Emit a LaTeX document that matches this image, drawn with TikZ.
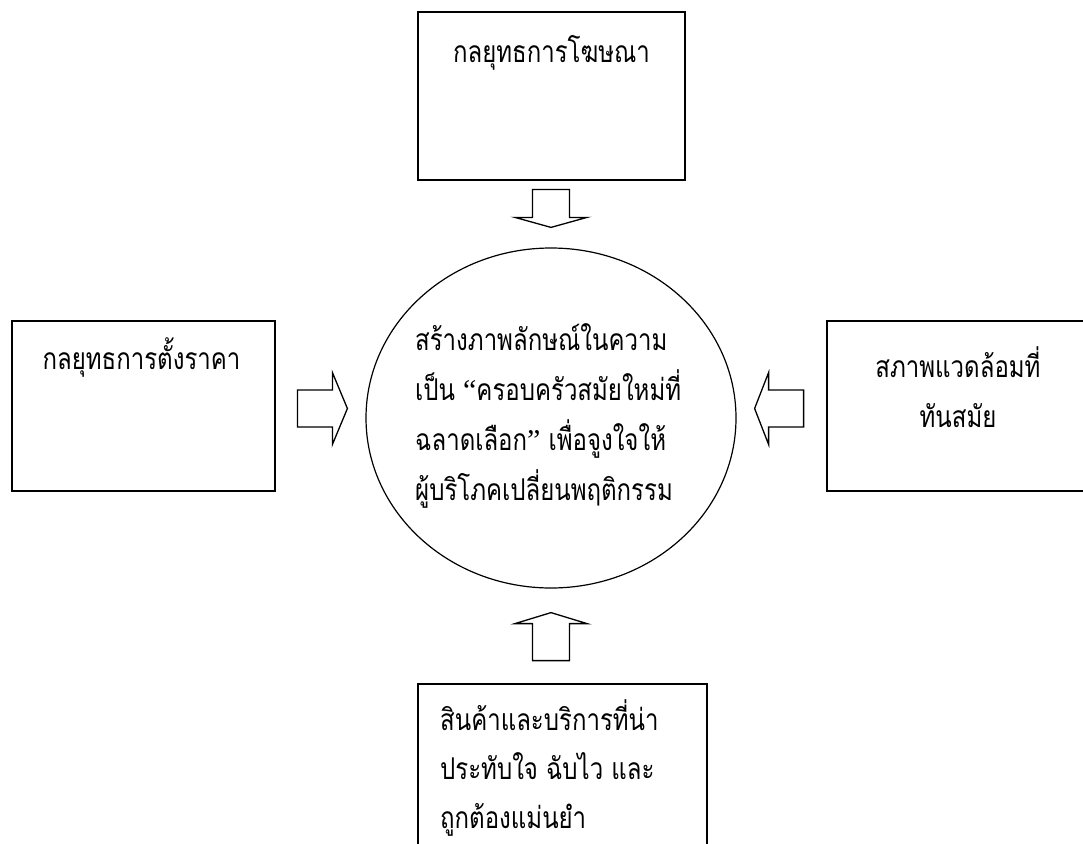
\documentclass[tikz,border=0pt]{standalone}
\usepackage{fontspec}
\newfontfamily\thaifont[Script=Thai,FakeStretch=0.8]{Loma}
\newfontfamily\quotefont{Liberation Serif}
\usetikzlibrary{calc,shapes.geometric}
\newcommand\blockarrowat[4]{% tip coordinate, rotation, total length, head length
  \draw[blockarr, shift={(#1)}, rotate=#2] (0,0) -- (-#4,36) -- (-#4,18.5) -- (-#3,18.5) -- (-#3,-18.5) -- (-#4,-18.5) -- (-#4,-36) -- cycle;}
\begin{document}
\begin{tikzpicture}[x=1pt,y=-1pt,
  box/.style={draw, line width=1.6pt, rectangle, inner sep=0pt},
  txt/.style={font=\thaifont\fontsize{30}{50}\selectfont, inner sep=0pt},
  blockarr/.style={draw, line width=1.3pt, fill=white, line join=miter},
  oval/.style={draw, ellipse, line width=1.2pt, inner sep=0pt}]
\useasboundingbox (0,0) rectangle (1083,843);
% boxes
\node[box, minimum width=267pt, minimum height=168pt] (ad) at (551.5,96) {};
\node[box, minimum width=263pt, minimum height=170pt] (price) at (143.5,406) {};
\node[box, minimum width=262pt, minimum height=170pt] (env) at (958,406) {};
\node[box, minimum width=289pt, minimum height=216pt] (prod) at (562.5,792) {};
\node[oval, minimum width=370pt, minimum height=340pt] (c) at (551,418) {};
% texts
\node[txt] (adt) at (551.5,53) {กลยุทธการโฆษณา};
\node[txt] (pricet) at (141.5,358) {กลยุทธการตั้งราคา};
\node[txt, align=center] (envt) at (958,387) {สภาพแวดล้อมที่\\ทันสมัย};
\node[txt, align=left, anchor=west] (ct) at (415,416) {สร้างภาพลักษณ์ในความ\\เป็น {\quotefont “}ครอบครัวสมัยใหม่ที่\\ฉลาดเลือก{\quotefont ”} เพื่อจูงใจให้\\ผู้บริโภคเปลี่ยนพฤติกรรม};
\node[txt, align=left, anchor=west, font=\thaifont\fontsize{30}{49}\selectfont] (prodt) at (440,768) {สินค้าและบริการที่น่า\\ประทับใจ ฉับไว และ\\ถูกต้องแม่นยำ};
% block arrows
\coordinate (tipTop) at ($(c.north)+(0,-20)$);
\coordinate (tipBot) at ($(c.south)+(0,24)$);
\coordinate (tipL) at ($(c.west)+(-18,-9.5)$);
\coordinate (tipR) at ($(c.east)+(18,-9.5)$);
\blockarrowat{tipTop}{-90}{38}{10}
\blockarrowat{tipBot}{90}{48}{11}
\blockarrowat{tipL}{0}{50}{15}
\blockarrowat{tipR}{180}{49}{14}
\end{tikzpicture}
\end{document}
